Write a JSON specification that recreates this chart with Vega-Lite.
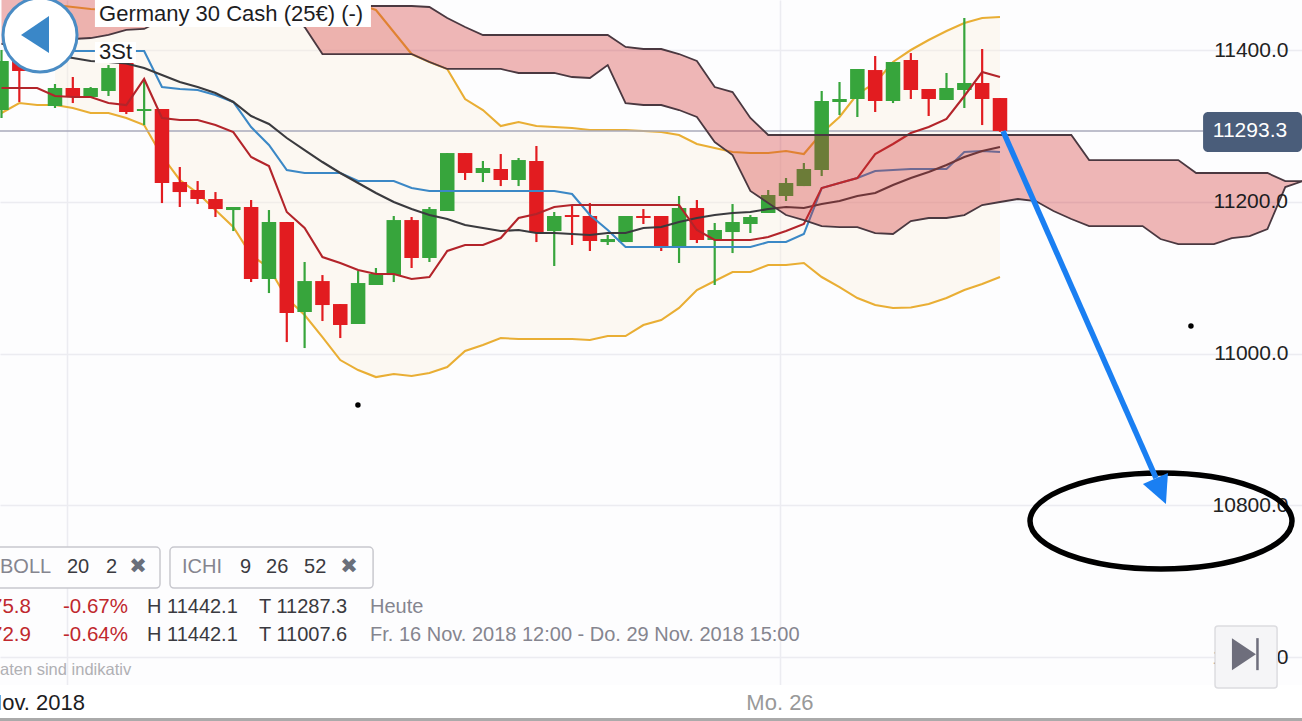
{"$schema":"https://vega.github.io/schema/vega-lite/v6.json","width":1302,"height":721,"padding":0,"autosize":{"type":"none"},"background":"#fdfdfe","config":{"view":{"stroke":null},"text":{"font":"Liberation Sans"}},
"data":{"values":[
{"bar":0,"open":11320.9,"high":11400,"low":11310.4,"close":11385.5,"lower":11317,"tenkan":11349.9,"cloudTop":11468.5,"cloudBottom":11407.9},
{"bar":1,"open":11393.4,"high":11406.6,"low":11331.5,"close":11372.3,"lower":11330.1,"tenkan":11349.9,"cloudTop":11468.5,"cloudBottom":11409.2},
{"bar":2,"lower":11327.5,"tenkan":11349.9,"cloudTop":11468.5,"cloudBottom":11410.5},
{"bar":3,"open":11326.2,"high":11355.2,"low":11323.6,"close":11349.9,"upper":11459.3,"lower":11327.5,"mid":11393.4,"tenkan":11339.4,"cloudTop":11468.5,"cloudBottom":11411.9},
{"bar":4,"open":11349.9,"high":11364.4,"low":11330.1,"close":11338.1,"upper":11456.7,"lower":11323.6,"mid":11389.5,"tenkan":11338.1,"kijun":11398.7,"cloudTop":11468.5,"cloudBottom":11414.5},
{"bar":5,"open":11338.1,"high":11351.2,"low":11338.1,"close":11349.9,"upper":11454,"lower":11317,"mid":11385.5,"tenkan":11338.1,"kijun":11398.7,"cloudTop":11468.5,"cloudBottom":11415.8},
{"bar":6,"open":11346,"high":11380.2,"low":11339.4,"close":11376.3,"upper":11452.7,"lower":11317,"mid":11384.2,"tenkan":11330.1,"kijun":11398.7,"cloudTop":11468.5,"cloudBottom":11419.8},
{"bar":7,"open":11384.2,"high":11386.8,"low":11315.6,"close":11318.3,"upper":11454,"lower":11310.4,"mid":11382.2,"tenkan":11327.5,"kijun":11398.7,"cloudTop":11468.5,"cloudBottom":11426.4},
{"bar":8,"open":11319.6,"high":11360.5,"low":11301.1,"close":11322.2,"upper":11454,"lower":11301.1,"mid":11376.3,"tenkan":11361.8,"kijun":11398.7,"cloudTop":11468.5,"cloudBottom":11427.7},
{"bar":9,"open":11322.2,"high":11322.2,"low":11198.3,"close":11224.7,"upper":11454,"lower":11260.3,"mid":11367,"tenkan":11310.4,"kijun":11351.2,"cloudTop":11468.5,"cloudBottom":11439.5},
{"bar":10,"open":11226,"high":11245.8,"low":11193.1,"close":11212.8,"upper":11454,"lower":11228.7,"mid":11357.8,"tenkan":11307.7,"kijun":11348.6,"cloudTop":11468.5,"cloudBottom":11439.5},
{"bar":11,"open":11215.5,"high":11227.3,"low":11197,"close":11203.6,"upper":11454,"lower":11211.5,"mid":11351.2,"tenkan":11307.7,"kijun":11347.3,"cloudTop":11468.5,"cloudBottom":11439.5},
{"bar":12,"open":11203.6,"high":11212.8,"low":11179.9,"close":11190.4,"upper":11454,"lower":11189.1,"mid":11343.3,"tenkan":11301.1,"kijun":11340.7,"cloudTop":11468.5,"cloudBottom":11439.5},
{"bar":13,"open":11189.1,"high":11193.1,"low":11161.4,"close":11193.1,"upper":11454,"lower":11166.7,"mid":11331.5,"tenkan":11291.9,"kijun":11331.5,"cloudTop":11468.5,"cloudBottom":11439.5},
{"bar":14,"open":11193.1,"high":11202.3,"low":11094.2,"close":11098.2,"upper":11454,"lower":11129.8,"mid":11313,"tenkan":11259,"kijun":11298.5,"cloudTop":11468.5,"cloudBottom":11439.5},
{"bar":15,"open":11098.2,"high":11189.1,"low":11079.7,"close":11173.3,"upper":11456.7,"lower":11112.7,"mid":11302.5,"tenkan":11247.1,"kijun":11274.8,"cloudTop":11468.5,"cloudBottom":11439.5},
{"bar":16,"open":11173.3,"high":11173.3,"low":11015.1,"close":11053.4,"upper":11456.7,"lower":11073.1,"mid":11284,"tenkan":11186.5,"kijun":11241.8,"cloudTop":11468.5,"cloudBottom":11446.1},
{"bar":17,"open":11054.7,"high":11120.6,"low":11007.2,"close":11095.5,"upper":11456.7,"lower":11050.7,"mid":11268.2,"tenkan":11165.4,"kijun":11237.9,"cloudTop":11468.5,"cloudBottom":11430.3},
{"bar":18,"open":11095.5,"high":11103.4,"low":11042.8,"close":11063.9,"upper":11456.7,"lower":11021.7,"mid":11252.4,"tenkan":11127.2,"kijun":11237.9,"cloudTop":11468.5,"cloudBottom":11394.7},
{"bar":19,"open":11065.2,"high":11065.2,"low":11020.4,"close":11037.6,"upper":11456.7,"lower":10991.4,"mid":11237.9,"tenkan":11119.3,"kijun":11237.9,"cloudTop":11468.5,"cloudBottom":11394.7},
{"bar":20,"open":11038.9,"high":11108.7,"low":11038.9,"close":11092.9,"upper":11460.6,"lower":10978.2,"mid":11224.7,"tenkan":11110.1,"kijun":11227.3,"cloudTop":11458,"cloudBottom":11394.7},
{"bar":21,"open":11090.3,"high":11112.7,"low":11090.3,"close":11104.8,"upper":11452.7,"lower":10969,"mid":11211.5,"tenkan":11104.8,"kijun":11227.3,"cloudTop":11458,"cloudBottom":11394.7},
{"bar":22,"open":11103.4,"high":11181.2,"low":11094.2,"close":11175.9,"upper":11423.7,"lower":10973,"mid":11199.7,"tenkan":11104.8,"kijun":11227.3,"cloudTop":11458,"cloudBottom":11394.7},
{"bar":23,"open":11175.9,"high":11179.9,"low":11112.7,"close":11125.9,"upper":11394.7,"lower":10970.3,"mid":11190.4,"tenkan":11098.2,"kijun":11218.1,"cloudTop":11458,"cloudBottom":11394.7},
{"bar":24,"open":11125.9,"high":11193.1,"low":11120.6,"close":11190.4,"upper":11384.2,"lower":10974.3,"mid":11182.5,"tenkan":11100.8,"kijun":11214.2,"cloudTop":11456.7,"cloudBottom":11384.2},
{"bar":25,"open":11187.8,"high":11264.2,"low":11187.8,"close":11264.2,"upper":11375,"lower":10982.2,"mid":11177.3,"tenkan":11135.1,"kijun":11214.2,"cloudTop":11442.2,"cloudBottom":11375},
{"bar":26,"open":11264.2,"high":11264.2,"low":11228.7,"close":11237.9,"upper":11335.4,"lower":11003.3,"mid":11169.4,"tenkan":11143,"kijun":11214.2,"cloudTop":11430.3,"cloudBottom":11375},
{"bar":27,"open":11237.9,"high":11253.7,"low":11226,"close":11244.5,"upper":11320.9,"lower":11011.2,"mid":11165.4,"tenkan":11143,"kijun":11214.2,"cloudTop":11419.8,"cloudBottom":11375},
{"bar":28,"open":11243.2,"high":11262.9,"low":11220.7,"close":11228.7,"upper":11299.8,"lower":11020.4,"mid":11161.4,"tenkan":11152.2,"kijun":11214.2,"cloudTop":11419.8,"cloudBottom":11375},
{"bar":29,"open":11228.7,"high":11257.7,"low":11220.7,"close":11255,"upper":11305.1,"lower":11019.1,"mid":11162.8,"tenkan":11178.6,"kijun":11214.2,"cloudTop":11419.8,"cloudBottom":11369.7},
{"bar":30,"open":11253.7,"high":11273.5,"low":11146.9,"close":11160.1,"upper":11299.8,"lower":11019.1,"mid":11158.8,"tenkan":11183.8,"kijun":11214.2,"cloudTop":11419.8,"cloudBottom":11369.7},
{"bar":31,"open":11161.4,"high":11186.5,"low":11115.3,"close":11181.2,"upper":11298.5,"lower":11019.1,"mid":11158.8,"tenkan":11193.1,"kijun":11214.2,"cloudTop":11419.8,"cloudBottom":11369.7},
{"bar":32,"open":11182.5,"high":11195.7,"low":11143,"close":11179.9,"upper":11297.2,"lower":11019.1,"mid":11157.5,"tenkan":11195.7,"kijun":11210.2,"cloudTop":11419.8,"cloudBottom":11364.4},
{"bar":33,"open":11181.2,"high":11198.3,"low":11135.1,"close":11148.3,"upper":11294.6,"lower":11017.8,"mid":11156.2,"tenkan":11195.7,"kijun":11182.5,"cloudTop":11419.8,"cloudBottom":11363.1},
{"bar":34,"open":11146.9,"high":11156.2,"low":11143,"close":11150.9,"upper":11294.6,"lower":11023,"mid":11158.8,"tenkan":11195.7,"kijun":11162.8,"cloudTop":11419.8,"cloudBottom":11380.2},
{"bar":35,"open":11146.9,"high":11181.2,"low":11146.9,"close":11181.2,"upper":11294.6,"lower":11023,"mid":11158.8,"tenkan":11195.7,"kijun":11140.3,"cloudTop":11404,"cloudBottom":11330.1},
{"bar":36,"open":11181.2,"high":11190.4,"low":11170.7,"close":11178.6,"upper":11293.2,"lower":11037.6,"mid":11165.4,"tenkan":11195.7,"kijun":11140.3,"cloudTop":11401.3,"cloudBottom":11327.5},
{"bar":37,"open":11181.2,"high":11181.2,"low":11135.1,"close":11141.7,"upper":11291.9,"lower":11044.1,"mid":11166.7,"tenkan":11195.7,"kijun":11140.3,"cloudTop":11401.3,"cloudBottom":11327.5},
{"bar":38,"open":11140.3,"high":11207.6,"low":11119.3,"close":11191.8,"upper":11287.9,"lower":11060,"mid":11173.3,"tenkan":11195.7,"kijun":11140.3,"cloudTop":11394.7,"cloudBottom":11320.9},
{"bar":39,"open":11191.8,"high":11202.3,"low":11145.6,"close":11149.6,"upper":11276.1,"lower":11083.7,"mid":11178.6,"tenkan":11162.8,"kijun":11140.3,"cloudTop":11385.5,"cloudBottom":11311.7},
{"bar":40,"open":11149.6,"high":11172,"low":11090.3,"close":11162.8,"upper":11270.8,"lower":11095.5,"mid":11182.5,"tenkan":11149.6,"kijun":11140.3,"cloudTop":11351.2,"cloudBottom":11278.7},
{"bar":41,"open":11160.1,"high":11197,"low":11132.4,"close":11173.3,"upper":11265.6,"lower":11107.4,"mid":11185.2,"tenkan":11149.6,"kijun":11140.3,"cloudTop":11344.6,"cloudBottom":11261.6},
{"bar":42,"open":11170.7,"high":11182.5,"low":11158.8,"close":11179.9,"upper":11264.2,"lower":11107.4,"mid":11186.5,"tenkan":11149.6,"kijun":11140.3,"cloudTop":11310.4,"cloudBottom":11214.2},
{"bar":43,"open":11185.2,"high":11215.5,"low":11185.2,"close":11208.9,"upper":11264.2,"lower":11116.6,"mid":11190.4,"tenkan":11153.5,"kijun":11146.9,"cloudTop":11288,"cloudBottom":11198.3},
{"bar":44,"open":11207.6,"high":11231.3,"low":11201,"close":11224.7,"upper":11266.9,"lower":11116.6,"mid":11193.1,"tenkan":11161.4,"kijun":11146.9,"cloudTop":11288,"cloudBottom":11182.5},
{"bar":45,"open":11220.7,"high":11251.1,"low":11220.7,"close":11243.2,"upper":11262.9,"lower":11119.3,"mid":11191.8,"tenkan":11170.7,"kijun":11157.5,"cloudTop":11288,"cloudBottom":11175.9},
{"bar":46,"open":11241.8,"high":11346,"low":11233.9,"close":11332.8,"upper":11290.6,"lower":11100.8,"mid":11197,"tenkan":11218.1,"kijun":11218.1,"cloudTop":11288,"cloudBottom":11168},
{"bar":47,"open":11331.5,"high":11357.8,"low":11314.3,"close":11335.4,"upper":11311.7,"lower":11087.6,"mid":11201,"tenkan":11224.7,"kijun":11224.7,"cloudTop":11288,"cloudBottom":11166.7},
{"bar":48,"open":11335.4,"high":11375,"low":11311.7,"close":11375,"upper":11342,"lower":11073.1,"mid":11207.6,"tenkan":11231.3,"kijun":11231.3,"cloudTop":11288,"cloudBottom":11166.7},
{"bar":49,"open":11373.6,"high":11392.1,"low":11318.3,"close":11332.8,"upper":11356.5,"lower":11063.9,"mid":11211.5,"tenkan":11262.9,"kijun":11240.5,"cloudTop":11288,"cloudBottom":11158.8},
{"bar":50,"open":11332.8,"high":11384.2,"low":11330.1,"close":11384.2,"upper":11384.2,"lower":11059.9,"mid":11222.1,"tenkan":11276.1,"kijun":11241.8,"cloudTop":11288,"cloudBottom":11157.5},
{"bar":51,"open":11386.8,"high":11396,"low":11335.4,"close":11347.3,"upper":11400,"lower":11060.6,"mid":11231.3,"tenkan":11290.6,"kijun":11243.2,"cloudTop":11288,"cloudBottom":11174.6},
{"bar":52,"open":11348.6,"high":11348.6,"low":11313,"close":11335.4,"upper":11413.2,"lower":11065.2,"mid":11239.2,"tenkan":11298.5,"kijun":11243.2,"cloudTop":11288,"cloudBottom":11178.6},
{"bar":53,"open":11334.1,"high":11369.7,"low":11334.1,"close":11349.9,"upper":11425,"lower":11073.1,"mid":11248.4,"tenkan":11309.1,"kijun":11243.2,"cloudTop":11288,"cloudBottom":11178.6},
{"bar":54,"open":11347.3,"high":11442.2,"low":11323.6,"close":11356.5,"upper":11435.6,"lower":11083.7,"mid":11259,"tenkan":11339.4,"kijun":11265.6,"cloudTop":11288,"cloudBottom":11182.5},
{"bar":55,"open":11356.5,"high":11401.3,"low":11301.1,"close":11335.4,"upper":11442.2,"lower":11091.6,"mid":11266.9,"tenkan":11371,"kijun":11266.9,"cloudTop":11288,"cloudBottom":11195.7},
{"bar":56,"open":11336.7,"high":11336.7,"low":11292.1,"close":11293.3,"upper":11443.5,"lower":11100.8,"mid":11272.2,"tenkan":11364.4,"kijun":11265.6,"cloudTop":11288,"cloudBottom":11199.7},
{"bar":57,"cloudTop":11288,"cloudBottom":11203.6},
{"bar":58,"cloudTop":11288,"cloudBottom":11201},
{"bar":59,"cloudTop":11288,"cloudBottom":11187.8},
{"bar":60,"cloudTop":11288,"cloudBottom":11177.3},
{"bar":61,"cloudTop":11255,"cloudBottom":11168},
{"bar":62,"cloudTop":11255,"cloudBottom":11168},
{"bar":63,"cloudTop":11255,"cloudBottom":11168},
{"bar":64,"cloudTop":11255,"cloudBottom":11168},
{"bar":65,"cloudTop":11255,"cloudBottom":11150.9},
{"bar":66,"cloudTop":11255,"cloudBottom":11144.3},
{"bar":67,"cloudTop":11237.9,"cloudBottom":11144.3},
{"bar":68,"cloudTop":11237.9,"cloudBottom":11144.3},
{"bar":69,"cloudTop":11237.9,"cloudBottom":11152.2},
{"bar":70,"cloudTop":11237.9,"cloudBottom":11154.8},
{"bar":71,"cloudTop":11237.9,"cloudBottom":11164.1},
{"bar":72,"cloudTop":11227.3,"cloudBottom":11219.4},
{"bar":73,"cloudTop":11227.3,"cloudBottom":11227.3}
]},
"encoding":{"x":{"field":"bar","type":"quantitative","scale":{"domain":[-0.0841,72.938],"nice":false,"zero":false,"padding":0},"axis":{"values":[3.674,43.66],"grid":true,"gridColor":"#ececf1","gridWidth":1.5,"labels":false,"ticks":false,"domain":false,"title":null}}},
"layer":[
{"mark":{"type":"area","fill":"#fdf0d8","opacity":0.3},"encoding":{"y":{"field":"upper","type":"quantitative","scale":{"domain":[10515.7,11465.9],"nice":false,"zero":false},"axis":{"orient":"right","values":[11400,11200,11000,10800,10600],"grid":true,"gridColor":"#ececf1","gridWidth":1.5,"domain":false,"ticks":false,"labelPadding":-14,"labelAlign":"right","labelBaseline":"middle","labelFontSize":21,"labelFont":"Liberation Sans","labelColor":"#222222","labelExpr":"datum.value==11200?'':format(datum.value,'.1f')","title":null}},"y2":{"field":"lower"}}},
{"mark":{"type":"line","color":"#e9ae34","strokeWidth":2.1},"encoding":{"y":{"field":"upper","type":"quantitative","scale":{"domain":[10515.7,11465.9],"nice":false,"zero":false}}}},
{"mark":{"type":"line","color":"#e9ae34","strokeWidth":2.1},"encoding":{"y":{"field":"lower","type":"quantitative","scale":{"domain":[10515.7,11465.9],"nice":false,"zero":false}}}},
{"data":{"values":[{"bar":-0.0841,"bar2":67.4,"price":11293.3}]},"mark":{"type":"rule","color":"#a8aabb","strokeWidth":1.6},"encoding":{"x2":{"field":"bar2"},"y":{"field":"price","type":"quantitative","scale":{"domain":[10515.7,11465.9],"nice":false,"zero":false}}}},
{"mark":{"type":"rule","strokeWidth":2.2},"encoding":{"y":{"field":"low","type":"quantitative","scale":{"domain":[10515.7,11465.9],"nice":false,"zero":false}},"y2":{"field":"high"},"color":{"condition":{"test":"datum.close>=datum.open","value":"#37a53c"},"value":"#e21c20"}}},
{"mark":{"type":"bar","size":14.5,"orient":"vertical"},"encoding":{"y":{"field":"open","type":"quantitative","scale":{"domain":[10515.7,11465.9],"nice":false,"zero":false}},"y2":{"field":"close"},"color":{"condition":{"test":"datum.close>=datum.open","value":"#37a53c"},"value":"#e21c20"}}},
{"mark":{"type":"line","color":"#3b88c6","strokeWidth":2.1},"encoding":{"y":{"field":"kijun","type":"quantitative","scale":{"domain":[10515.7,11465.9],"nice":false,"zero":false}}}},
{"mark":{"type":"line","color":"#3a3a3e","strokeWidth":2.1},"encoding":{"y":{"field":"mid","type":"quantitative","scale":{"domain":[10515.7,11465.9],"nice":false,"zero":false}}}},
{"mark":{"type":"line","color":"#b3242a","strokeWidth":2.1},"encoding":{"y":{"field":"tenkan","type":"quantitative","scale":{"domain":[10515.7,11465.9],"nice":false,"zero":false}}}},
{"mark":{"type":"area","fill":"#d23232","opacity":0.35},"encoding":{"y":{"field":"cloudTop","type":"quantitative","scale":{"domain":[10515.7,11465.9],"nice":false,"zero":false}},"y2":{"field":"cloudBottom"}}},
{"mark":{"type":"line","color":"#4a3840","strokeWidth":1.8},"encoding":{"y":{"field":"cloudTop","type":"quantitative","scale":{"domain":[10515.7,11465.9],"nice":false,"zero":false}}}},
{"mark":{"type":"line","color":"#4a3840","strokeWidth":1.8},"encoding":{"y":{"field":"cloudBottom","type":"quantitative","scale":{"domain":[10515.7,11465.9],"nice":false,"zero":false}}}},
{"data":{"values":[{"bar":5.24,"bar2":20.72,"price":11465.9,"price2":11430.3},{"bar":5.24,"bar2":7.54,"price":11410.5,"price2":11382.9},{"bar":-0.0841,"bar2":72.938,"price":10563.1,"price2":10519.6}]},"mark":{"type":"rect","fill":"#ffffff"},"encoding":{"x2":{"field":"bar2"},"y":{"field":"price","type":"quantitative","scale":{"domain":[10515.7,11465.9],"nice":false,"zero":false}},"y2":{"field":"price2"}}},
{"data":{"values":[{"bar":-0.0841,"bar2":72.938,"price":10519.6,"price2":10515.7}]},"mark":{"type":"rect","fill":"#aaaaaa"},"encoding":{"x2":{"field":"bar2"},"y":{"field":"price","type":"quantitative","scale":{"domain":[10515.7,11465.9],"nice":false,"zero":false}},"y2":{"field":"price2"}}},
{"data":{"values":[{"bar":-0.65,"bar2":8.89,"price":10745,"price2":10690.9},{"bar":9.45,"bar2":20.84,"price":10745,"price2":10690.9}]},"mark":{"type":"rect","fill":"#fdfdfe","stroke":"#c8c8ce","strokeWidth":1.5,"cornerRadius":4},"encoding":{"x2":{"field":"bar2"},"y":{"field":"price","type":"quantitative","scale":{"domain":[10515.7,11465.9],"nice":false,"zero":false}},"y2":{"field":"price2"}}},
{"data":{"values":[{"bar":5.47,"price":11447.5,"label":"Germany 30 Cash (25€) (-)"},{"bar":5.47,"price":11397.4,"label":"3St"}]},"mark":{"type":"text","align":"left","baseline":"middle","fontSize":22,"color":"#1d1d1f"},"encoding":{"y":{"field":"price","type":"quantitative","scale":{"domain":[10515.7,11465.9],"nice":false,"zero":false}},"text":{"field":"label"}}},
{"data":{"values":[{"bar":72.15,"price":11200,"label":"11200.0"}]},"mark":{"type":"text","align":"right","baseline":"middle","fontSize":21,"color":"#1d1d1f"},"encoding":{"y":{"field":"price","type":"quantitative","scale":{"domain":[10515.7,11465.9],"nice":false,"zero":false}},"text":{"field":"label"}}},
{"data":{"values":[{"bar":4.68,"price":10539.3,"label":"Nov. 2018"}]},"mark":{"type":"text","align":"right","baseline":"middle","fontSize":22,"color":"#1d1d1f"},"encoding":{"y":{"field":"price","type":"quantitative","scale":{"domain":[10515.7,11465.9],"nice":false,"zero":false}},"text":{"field":"label"}}},
{"data":{"values":[{"bar":43.66,"price":10539.3,"label":"Mo. 26"}]},"mark":{"type":"text","align":"center","baseline":"middle","fontSize":22,"color":"#999999"},"encoding":{"y":{"field":"price","type":"quantitative","scale":{"domain":[10515.7,11465.9],"nice":false,"zero":false}},"text":{"field":"label"}}},
{"data":{"values":[{"bar":-0.0841,"price":10718.6,"label":"BOLL"},{"bar":10.12,"price":10718.6,"label":"ICHI"},{"bar":20.67,"price":10665.9,"label":"Heute"},{"bar":20.67,"price":10629,"label":"Fr. 16 Nov. 2018 12:00 - Do. 29 Nov. 2018 15:00"}]},"mark":{"type":"text","align":"left","baseline":"middle","fontSize":20,"color":"#85858f"},"encoding":{"y":{"field":"price","type":"quantitative","scale":{"domain":[10515.7,11465.9],"nice":false,"zero":false}},"text":{"field":"label"}}},
{"data":{"values":[{"bar":3.67,"price":10718.6,"label":"20"},{"bar":5.86,"price":10718.6,"label":"2"},{"bar":13.38,"price":10718.6,"label":"9"},{"bar":14.84,"price":10718.6,"label":"26"},{"bar":16.97,"price":10718.6,"label":"52"},{"bar":8.16,"price":10665.9,"label":"H 11442.1"},{"bar":14.44,"price":10665.9,"label":"T 11287.3"},{"bar":8.16,"price":10629,"label":"H 11442.1"},{"bar":14.44,"price":10629,"label":"T 11007.6"}]},"mark":{"type":"text","align":"left","baseline":"middle","fontSize":20,"color":"#3a3a40"},"encoding":{"y":{"field":"price","type":"quantitative","scale":{"domain":[10515.7,11465.9],"nice":false,"zero":false}},"text":{"field":"label"}}},
{"data":{"values":[{"bar":7.66,"price":10718.6,"label":"✖"},{"bar":19.49,"price":10718.6,"label":"✖"}]},"mark":{"type":"text","align":"center","baseline":"middle","fontSize":21,"font":"DejaVu Sans","color":"#6a6f7a"},"encoding":{"y":{"field":"price","type":"quantitative","scale":{"domain":[10515.7,11465.9],"nice":false,"zero":false}},"text":{"field":"label"}}},
{"data":{"values":[{"bar":3.45,"price":10665.9,"label":"-0.67%"},{"bar":3.45,"price":10629,"label":"-0.64%"}]},"mark":{"type":"text","align":"left","baseline":"middle","fontSize":20.5,"color":"#c0282d"},"encoding":{"y":{"field":"price","type":"quantitative","scale":{"domain":[10515.7,11465.9],"nice":false,"zero":false}},"text":{"field":"label"}}},
{"data":{"values":[{"bar":1.65,"price":10665.9,"label":"75.8"},{"bar":1.65,"price":10629,"label":"72.9"}]},"mark":{"type":"text","align":"right","baseline":"middle","fontSize":20.5,"color":"#c0282d"},"encoding":{"y":{"field":"price","type":"quantitative","scale":{"domain":[10515.7,11465.9],"nice":false,"zero":false}},"text":{"field":"label"}}},
{"data":{"values":[{"bar":-0.0841,"price":10582.8,"label":"aten sind indikativ"}]},"mark":{"type":"text","align":"left","baseline":"middle","fontSize":16.5,"color":"#b0b0b4"},"encoding":{"y":{"field":"price","type":"quantitative","scale":{"domain":[10515.7,11465.9],"nice":false,"zero":false}},"text":{"field":"label"}}},
{"data":{"values":[{"bar":67.39,"bar2":72.938,"price":11318.3,"price2":11265.6}]},"mark":{"type":"rect","fill":"#4a5d7a","cornerRadius":5},"encoding":{"x2":{"field":"bar2"},"y":{"field":"price","type":"quantitative","scale":{"domain":[10515.7,11465.9],"nice":false,"zero":false}},"y2":{"field":"price2"}}},
{"data":{"values":[{"bar":70.02,"price":11293.3,"label":"11293.3"}]},"mark":{"type":"text","align":"center","baseline":"middle","fontSize":21,"color":"#ffffff"},"encoding":{"y":{"field":"price","type":"quantitative","scale":{"domain":[10515.7,11465.9],"nice":false,"zero":false}},"text":{"field":"label"}}},
{"data":{"values":[{"bar":68.06,"bar2":71.54,"price":10640.8,"price2":10559.1}]},"mark":{"type":"rect","fill":"#f5f5f7","stroke":"#dcdce0","strokeWidth":1.5,"cornerRadius":3},"encoding":{"x2":{"field":"bar2"},"y":{"field":"price","type":"quantitative","scale":{"domain":[10515.7,11465.9],"nice":false,"zero":false}},"y2":{"field":"price2"}}},
{"data":{"values":[{"bar":69.68,"price":10603.8}]},"mark":{"type":"point","filled":true,"fill":"#6e6e7c","stroke":null,"opacity":1,"size":1024,"shape":"M-0.75,-1L0.75,0L-0.75,1Z"},"encoding":{"y":{"field":"price","type":"quantitative","scale":{"domain":[10515.7,11465.9],"nice":false,"zero":false}}}},
{"data":{"values":[{"bar":70.44,"price":10624.9,"price2":10582.7}]},"mark":{"type":"rule","color":"#6e6e7c","strokeWidth":2.5},"encoding":{"y":{"field":"price","type":"quantitative","scale":{"domain":[10515.7,11465.9],"nice":false,"zero":false}},"y2":{"field":"price2"}}},
{"data":{"values":[{"bar":2.16,"price":11419.8}]},"mark":{"type":"point","shape":"circle","filled":true,"fill":"#ffffff","stroke":"#4a8cc4","strokeWidth":3,"opacity":1,"size":5476},"encoding":{"y":{"field":"price","type":"quantitative","scale":{"domain":[10515.7,11465.9],"nice":false,"zero":false}}}},
{"data":{"values":[{"bar":1.88,"price":11419.8}]},"mark":{"type":"point","filled":true,"fill":"#3a87c8","stroke":null,"opacity":1,"size":1600,"shape":"M-0.7,0L0.7,-0.95L0.7,0.9Z"},"encoding":{"y":{"field":"price","type":"quantitative","scale":{"domain":[10515.7,11465.9],"nice":false,"zero":false}}}},
{"data":{"values":[{"bar":19.99,"price":10932.1},{"bar":66.71,"price":11036.2}]},"mark":{"type":"point","shape":"circle","filled":true,"fill":"#000000","stroke":null,"opacity":1,"size":30},"encoding":{"y":{"field":"price","type":"quantitative","scale":{"domain":[10515.7,11465.9],"nice":false,"zero":false}}}},
{"data":{"values":[{"bar":65.03,"price":10779.2}]},"mark":{"type":"point","filled":false,"stroke":"#000000","strokeWidth":5.5,"opacity":1,"size":68644,"shape":"M-1,0C-1,-0.2 -0.55,-0.366 0,-0.366C0.55,-0.366 1,-0.2 1,0C1,0.2 0.55,0.366 0,0.366C-0.55,0.366 -1,0.2 -1,0Z"},"encoding":{"y":{"field":"price","type":"quantitative","scale":{"domain":[10515.7,11465.9],"nice":false,"zero":false}}}},
{"data":{"values":[{"bar":56.17,"bar2":64.75,"price":11293.2,"price2":10835.9}]},"mark":{"type":"rule","color":"#1a7ff2","strokeWidth":5.5},"encoding":{"x2":{"field":"bar2"},"y":{"field":"price","type":"quantitative","scale":{"domain":[10515.7,11465.9],"nice":false,"zero":false}},"y2":{"field":"price2"}}},
{"data":{"values":[{"bar":64.97,"price":10824}]},"mark":{"type":"point","filled":true,"fill":"#1a7ff2","stroke":null,"opacity":1,"size":1600,"shape":"M-0.85,-0.15L0.4,-0.7L0.3,0.85Z"},"encoding":{"y":{"field":"price","type":"quantitative","scale":{"domain":[10515.7,11465.9],"nice":false,"zero":false}}}}
]}
